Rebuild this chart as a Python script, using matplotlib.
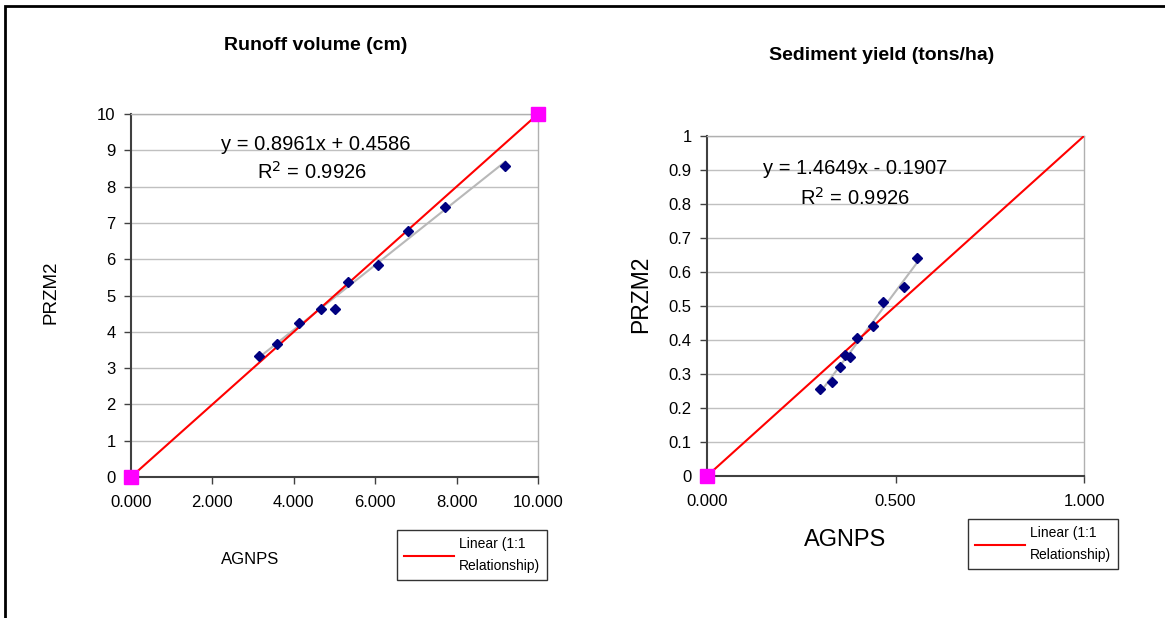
import numpy as np
import matplotlib
matplotlib.use("Agg")
from matplotlib import pyplot as plt
from matplotlib.patches import Rectangle

plt.rcParams["font.family"] = ["Liberation Sans", "DejaVu Sans"]

# runoff volume (cm)
runoff_agnps = [3.15, 3.58, 4.12, 4.66, 5.02, 5.34, 6.07, 6.80, 7.72, 9.20]
runoff_przm2 = [3.34, 3.66, 4.23, 4.63, 4.63, 5.38, 5.85, 6.78, 7.44, 8.58]
runoff_one2one = [0, 10]
runoff_xticks = [0, 2, 4, 6, 8, 10]
runoff_xlabels = ["0.000", "2.000", "4.000", "6.000", "8.000", "10.000"]
runoff_yticks = list(range(0, 11))

# sediment yield (tons/ha)
sed_agnps = [0.300, 0.332, 0.353, 0.365, 0.379, 0.399, 0.441, 0.466, 0.523, 0.558]
sed_przm2 = [0.255, 0.276, 0.322, 0.356, 0.351, 0.406, 0.440, 0.511, 0.556, 0.640]
sed_one2one = [0, 1]
sed_xticks = [0, 0.5, 1.0]
sed_xlabels = ["0.000", "0.500", "1.000"]
sed_yticks = [round(0.1 * i, 1) for i in range(11)]
sed_ylabels = ["0"] + ["%.1f" % v for v in sed_yticks[1:-1]] + ["1"]

W, H = 1165, 618
fig = plt.figure(figsize=(W / 100, H / 100), dpi=100)


def box(x0, y0, x1, y1):
    # pixel box (top-left origin) -> figure fraction
    return [x0 / W, 1 - y1 / H, (x1 - x0) / W, (y1 - y0) / H]


def style(ax):
    ax.grid(axis="y", color="#c0c0c0", linewidth=1)
    ax.set_axisbelow(True)
    for s in ["top", "right"]:
        ax.spines[s].set_color("#b0b0b0")
        ax.spines[s].set_linewidth(1)
    for s in ["left", "bottom"]:
        ax.spines[s].set_color("#404040")
        ax.spines[s].set_linewidth(1.5)
    ax.tick_params(length=5, width=1, color="#404040", labelsize=12)


def draw(ax, x, y, one2one, markers_at):
    ax.plot(one2one, one2one, color="#ff0000", linewidth=1.5,
            label="Linear (1:1\nRelationship)", zorder=3)
    ax.plot([one2one[i] for i in markers_at], [one2one[i] for i in markers_at],
            linestyle="none", marker="s", markersize=10, color="#ff00ff",
            zorder=5, clip_on=False)
    k, b = np.polyfit(x, y, 1)
    xs = np.array([min(x), max(x)])
    ax.plot(xs, k * xs + b, color="#b8b8b8", linewidth=1.5, zorder=2)
    ax.plot(x, y, linestyle="none", marker="D", markersize=5.5,
            color="#000080", zorder=4)


def legend(ax, cx, cy):
    leg = ax.legend(loc="center", bbox_to_anchor=(cx / W, 1 - cy / H),
                    bbox_transform=fig.transFigure, fontsize=10, frameon=True,
                    fancybox=False, edgecolor="black", shadow=False,
                    handlelength=3.6, borderpad=0.5, handletextpad=0.3,
                    borderaxespad=0)
    for t in leg.get_texts():
        t.set_linespacing(1.7)
    leg.get_frame().set_linewidth(1)


# left chart
ax1 = fig.add_axes(box(131, 114, 538, 477))
draw(ax1, runoff_agnps, runoff_przm2, runoff_one2one, [0, 1])
ax1.set_xlim(0, 10)
ax1.set_ylim(0, 10)
ax1.set_xticks(runoff_xticks)
ax1.set_xticklabels(runoff_xlabels)
ax1.set_yticks(runoff_yticks)
style(ax1)
ax1.tick_params(axis="x", pad=8)
ax1.tick_params(axis="y", pad=6)
fig.text(316 / W, 1 - 45 / H, "Runoff volume (cm)", ha="center", va="center",
         fontsize=14, fontweight="bold")
fig.text(316 / W, 1 - 144 / H, "y = 0.8961x + 0.4586", ha="center",
         va="center", fontsize=14.5)
fig.text(312 / W, 1 - 172 / H, "R$^2$ = 0.9926", ha="center", va="center",
         fontsize=14.5)
fig.text(51 / W, 1 - 292 / H, "PRZM2", rotation=90, ha="center", va="center",
         fontsize=13.5)
fig.text(250 / W, 1 - 560 / H, "AGNPS", ha="center", va="center", fontsize=12)
legend(ax1, 472, 555)

# right chart
ax2 = fig.add_axes(box(707, 136, 1084, 476))
draw(ax2, sed_agnps, sed_przm2, sed_one2one, [0])
ax2.set_xlim(0, 1)
ax2.set_ylim(0, 1)
ax2.set_xticks(sed_xticks)
ax2.set_xticklabels(sed_xlabels)
ax2.set_yticks(sed_yticks)
ax2.set_yticklabels(sed_ylabels)
style(ax2)
ax2.tick_params(axis="x", pad=8)
ax2.tick_params(axis="y", pad=6)
fig.text(882 / W, 1 - 55 / H, "Sediment yield (tons/ha)", ha="center",
         va="center", fontsize=14, fontweight="bold")
fig.text(855 / W, 1 - 168 / H, "y = 1.4649x - 0.1907", ha="center",
         va="center", fontsize=14.5)
fig.text(855 / W, 1 - 198 / H, "R$^2$ = 0.9926", ha="center", va="center",
         fontsize=14.5)
fig.text(641 / W, 1 - 294 / H, "PRZM2", rotation=90, ha="center", va="center",
         fontsize=16.5)
fig.text(845 / W, 1 - 540 / H, "AGNPS", ha="center", va="center", fontsize=17)
legend(ax2, 1043, 544)

# outer chart frame (only top and left edges are visible)
fig.patches.append(Rectangle((5 / W, -0.1), 1.2, 1 - 6 / H + 0.1,
                             transform=fig.transFigure, fill=False,
                             edgecolor="black", linewidth=2))

fig.savefig("out.png", dpi=100)
